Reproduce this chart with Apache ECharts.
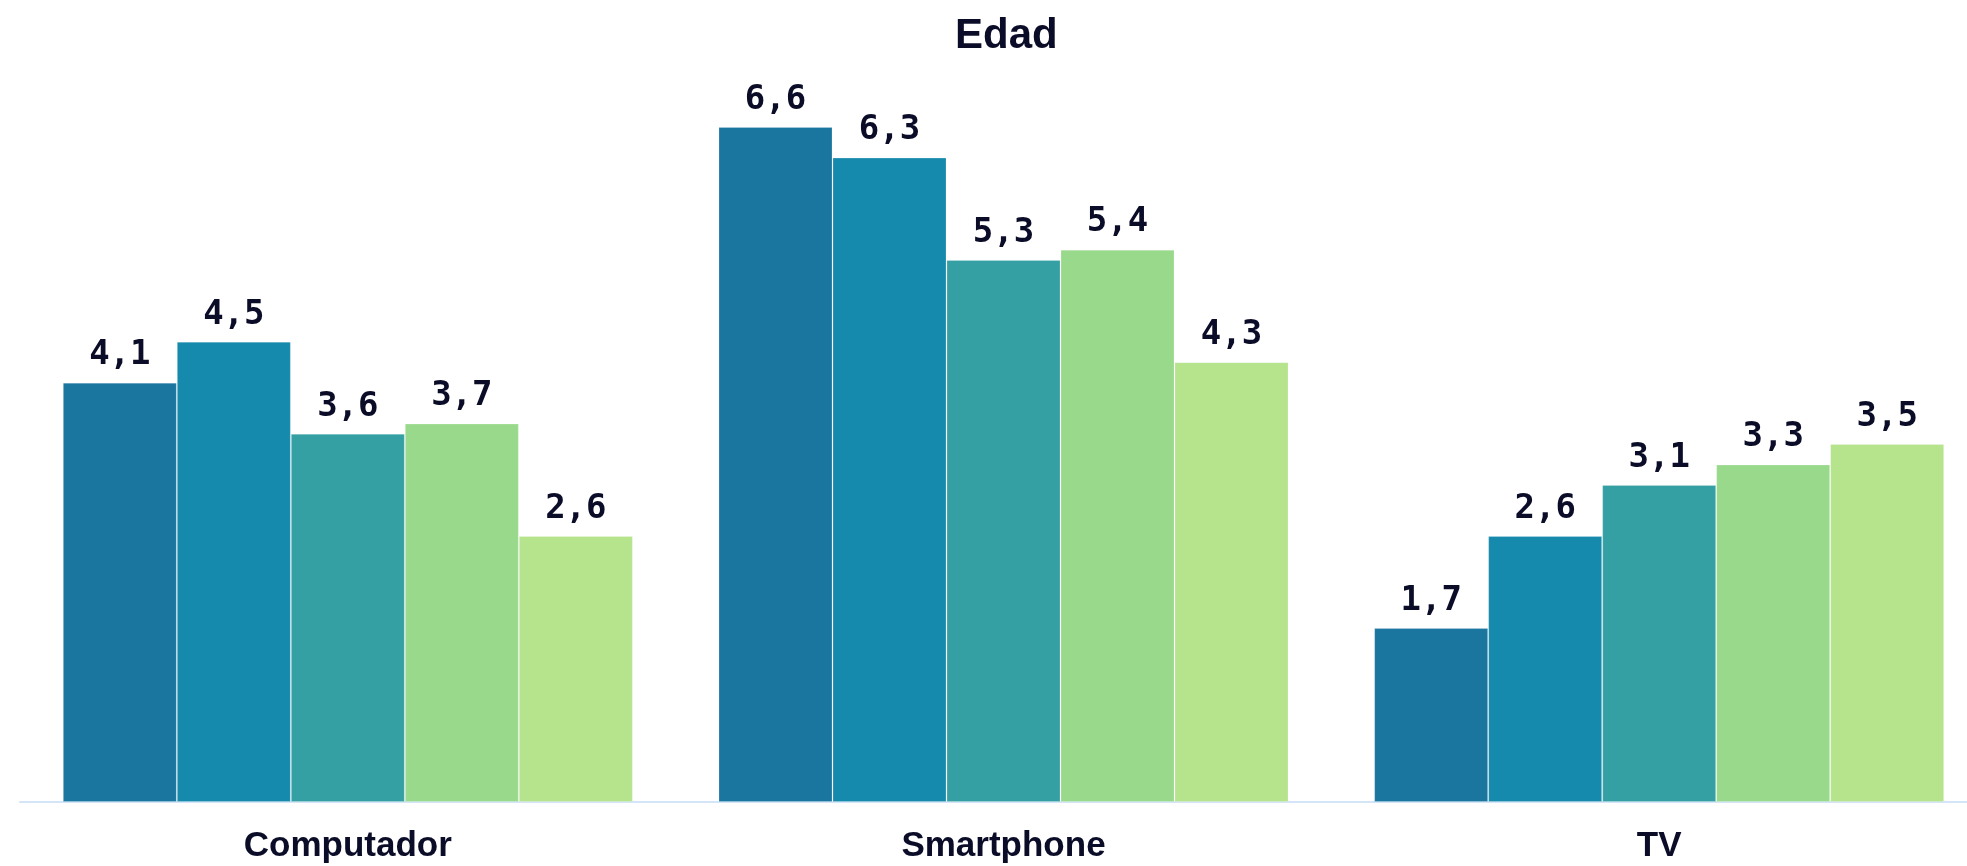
<!DOCTYPE html>
<html>
<head>
<meta charset="utf-8">
<script src="https://cdn.jsdelivr.net/npm/echarts@6/dist/echarts.min.js"></script>
<style>
  html, body { margin: 0; padding: 0; background: #ffffff; overflow: hidden; }
  #chart { width: 1987px; height: 866px; }
</style>
</head>
<body>
<div id="chart"></div>
<script>
const title = 'Edad';
const categories = ['Computador', 'Smartphone', 'TV'];
const serie1 = [4.1, 6.6, 1.7];
const serie2 = [4.5, 6.3, 2.6];
const serie3 = [3.6, 5.3, 3.1];
const serie4 = [3.7, 5.4, 3.3];
const serie5 = [2.6, 4.3, 3.5];
const seriesValues = [serie1, serie2, serie3, serie4, serie5];
const colors = ['#1a759f', '#168aad', '#34a0a4', '#99d98c', '#b5e48c'];
const textColor = '#0b0c28';

const chart = echarts.init(document.getElementById('chart'), null, { renderer: 'canvas' });

const series = seriesValues.map((vals, i) => ({
  type: 'bar',
  data: vals,
  barWidth: 114,
  barGap: '0%',
  itemStyle: {
    color: colors[i],
    borderColor: 'rgba(255,255,255,0.2)',
    borderWidth: 1
  },
  label: {
    show: true,
    position: 'top',
    distance: 10,
    color: textColor,
    fontFamily: 'DejaVu Sans Mono',
    fontWeight: 'bold',
    fontSize: 34,
    formatter: p => p.value.toFixed(1).replace('.', ',')
  },
  emphasis: { disabled: true },
  animation: false
}));

chart.setOption({
  animation: false,
  backgroundColor: '#ffffff',
  title: {
    text: title,
    left: 950,
    top: 10,
    textStyle: {
      color: textColor,
      fontFamily: 'Liberation Sans',
      fontWeight: 'bold',
      fontSize: 42
    }
  },
  grid: { left: 20, right: 0, top: 86, bottom: 64, outerBoundsMode: 'none', containLabel: false },
  xAxis: {
    type: 'category',
    data: categories,
    axisLine: { show: true, lineStyle: { color: '#d3e5f6', width: 2 } },
    axisTick: { show: false },
    axisLabel: {
      color: textColor,
      fontFamily: 'Liberation Sans',
      fontWeight: 'bold',
      fontSize: 35,
      margin: 27
    }
  },
  yAxis: {
    type: 'value',
    min: 0,
    max: 7,
    show: false,
    splitLine: { show: false }
  },
  series: series
});
</script>
</body>
</html>
